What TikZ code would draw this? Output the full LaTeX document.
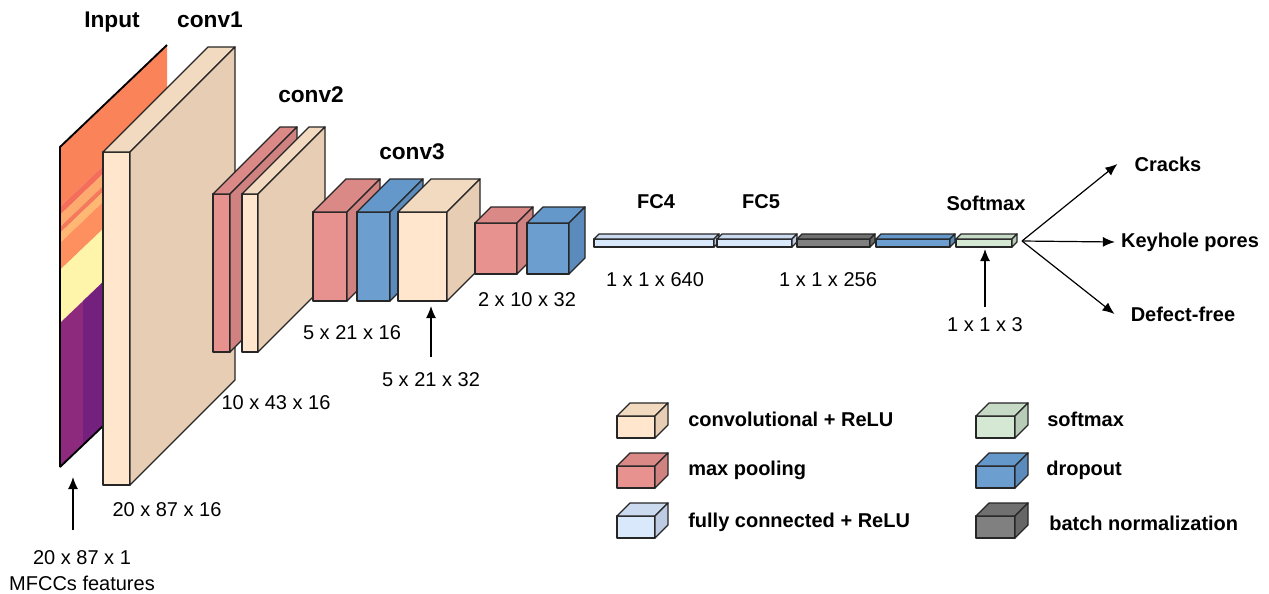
\documentclass[tikz,border=0pt]{standalone}
\usepackage{fontspec}
\setmainfont{Liberation Sans}
\usepackage{tikz}
\usetikzlibrary{arrows.meta,positioning,calc}
\definecolor{convF}{HTML}{FFE6CC}
\definecolor{convT}{HTML}{F2DAC0}
\definecolor{convS}{HTML}{E6CDB3}
\definecolor{poolF}{HTML}{E8928F}
\definecolor{poolT}{HTML}{DB8986}
\definecolor{poolS}{HTML}{CF8280}
\definecolor{dropF}{HTML}{6C9FD0}
\definecolor{dropT}{HTML}{6598CA}
\definecolor{dropS}{HTML}{5A8BBC}
\definecolor{fcF}{HTML}{DAE8FC}
\definecolor{fcT}{HTML}{CCDAF0}
\definecolor{fcS}{HTML}{BDCCE2}
\definecolor{bnF}{HTML}{808080}
\definecolor{bnT}{HTML}{707070}
\definecolor{bnS}{HTML}{666666}
\definecolor{smF}{HTML}{D5E8D4}
\definecolor{smT}{HTML}{C7DAC6}
\definecolor{smS}{HTML}{B8CBB7}
\definecolor{mfA}{HTML}{FB8359}
\definecolor{mfB}{HTML}{F46E5B}
\definecolor{mfC}{HTML}{FDAA6E}
\definecolor{mfD}{HTML}{F57A5C}
\definecolor{mfE}{HTML}{FFB874}
\definecolor{mfF}{HTML}{FD905E}
\definecolor{mfY}{HTML}{FFF5AA}
\definecolor{mfP}{HTML}{8E2A7E}
\definecolor{mfQ}{HTML}{74207F}
\tikzset{blk/.style={draw=black!85, line width=1pt, line join=round}}
\tikzset{ttl/.style={font=\bfseries\fontsize{17}{20}\selectfont, inner sep=0pt}}
\tikzset{dim/.style={font=\fontsize{15}{19.5}\selectfont, inner sep=0pt}}
\tikzset{cls/.style={font=\bfseries\fontsize{15}{18}\selectfont, inner sep=0pt}}
\tikzset{arr/.style={-{Latex[length=9pt,width=7.5pt]}, line width=0.9pt}}
\newcommand{\cuboid}[7]{%
  \filldraw[blk, fill=#7F] (#2,#3) rectangle ({#2+#4},{#3+#5});
  \filldraw[blk, fill=#7T] (#2,#3) -- ({#2+#6},{#3-#6}) -- ({#2+#4+#6},{#3-#6}) -- ({#2+#4},#3) -- cycle;
  \filldraw[blk, fill=#7S] ({#2+#4},#3) -- ({#2+#4+#6},{#3-#6}) -- ({#2+#4+#6},{#3+#5-#6}) -- ({#2+#4},{#3+#5}) -- cycle;
  \coordinate (#1) at ({#2+#4/2},{#3+#5});
}
\newcommand{\band}[3]{\fill[#3] (60,#1) -- (167,{#1-102}) -- (167,{#2-102}) -- (60,#2) -- cycle;}

\begin{document}
\begin{tikzpicture}[x=0.75pt, y=-0.75pt]
        \useasboundingbox (0,0) rectangle (1269,593);
        \begin{scope}
          \clip (60,147) -- (167,45) -- (167,365) -- (60,467) -- cycle;
          \band{40}{207}{mfA}
          \band{207}{215}{mfB}
          \band{215}{227}{mfC}
          \band{227}{233}{mfD}
          \band{233}{243}{mfE}
          \band{243}{270}{mfF}
          \band{270}{323}{mfY}
          \band{323}{480}{mfP}
          \clip (83,0) rectangle (167,480);
          \band{323}{480}{mfQ}
        \end{scope}
        \draw[line width=1.4pt] (60,467) -- (60,147) -- (167,45);
        \draw[line width=1.4pt] (60,467) -- (167,365);
        \cuboid{c1}{103}{152}{27}{333}{105}{conv}
        \cuboid{p2}{213}{194}{17}{158}{67}{pool}
        \cuboid{c2}{242}{194}{16}{158}{67}{conv}
        \cuboid{p3}{313}{212}{34}{89}{33}{pool}
        \cuboid{d3}{357}{212}{33}{89}{33}{drop}
        \cuboid{c3}{398}{212}{49}{89}{33}{conv}
        \cuboid{p4}{475}{223}{42}{51}{16}{pool}
        \cuboid{d4}{527}{223}{42}{51}{16}{drop}
        \cuboid{f4}{594}{239}{120}{8}{5}{fc}
        \cuboid{f5}{717}{239}{75}{8}{5}{fc}
        \cuboid{bn}{797}{239}{73}{8}{5}{bn}
        \cuboid{dr}{876}{239}{74}{8}{5}{drop}
        \cuboid{sm}{956}{239}{56}{8}{5}{sm}
        \node[ttl] (tin) at (112,22) {Input};
        \node[ttl] (tc1) at (210,20) {conv1};
        \node[ttl] (tc2) at (311,95) {conv2};
        \node[ttl] (tc3) at (412,152) {conv3};
        \node[cls] (tf4) at (656,202) {FC4};
        \node[cls] (tf5) at (761,202) {FC5};
        \node[cls] (tsm) at (986,203) {Softmax};
        \node[dim, align=center, anchor=north] (lin) at (82,550) {20 x 87 x 1\\MFCCs features};
        \node[dim] (l1) at (167,510) {20 x 87 x 16};
        \node[dim] (l2) at (276,403) {10 x 43 x 16};
        \node[dim] (l3) at (352,333) {5 x 21 x 16};
        \node[dim] (l4) at (431,380) {5 x 21 x 32};
        \node[dim] (l5) at (527,300) {2 x 10 x 32};
        \node[dim] (l6) at (655,280) {1 x 1 x 640};
        \node[dim] (l7) at (828,280) {1 x 1 x 256};
        \node[dim] (l8) at (985,325) {1 x 1 x 3};
        \coordinate (inpt) at (73,477);
        \coordinate (smo) at (1022,241);
        \draw[arr, shorten <=15pt] (lin.north -| inpt) -- (inpt);
        \draw[arr, shorten <=12pt, shorten >=3.75pt] (l4) -- (l4 |- c3);
        \draw[arr, shorten <=8pt, shorten >=1.5pt] (l8) -- (l8 |- sm);
        \node[cls] (o1) at (1168,164) {Cracks};
        \node[cls] (o2) at (1190,242) {Keyhole pores};
        \node[cls] (o3) at (1183,314) {Defect-free};
        \draw[arr] (smo) -- ([xshift=-12.75pt]o1.west);
        \draw[arr] (smo) -- ([xshift=-4.5pt]o2.west);
        \draw[arr] (smo) -- ([xshift=-12pt]o3.west);
        \cuboid{g1}{617}{416}{38}{22}{13}{conv}
        \cuboid{g2}{617}{466}{38}{22}{13}{pool}
        \cuboid{g3}{617}{516}{38}{22}{13}{fc}
        \cuboid{g4}{976}{416}{39}{22}{13}{sm}
        \cuboid{g5}{976}{466}{39}{22}{13}{drop}
        \cuboid{g6}{976}{516}{39}{22}{13}{bn}
        \node[cls, anchor=west] (k1) at (688,419) {convolutional + ReLU};
        \node[cls, anchor=west] (k2) at (688,470) {max pooling};
        \node[cls, anchor=west] (k3) at (688,522) {fully connected + ReLU};
        \node[cls, anchor=west] (k4) at (1047,419) {softmax};
        \node[cls, anchor=west] (k5) at (1046,470) {dropout};
        \node[cls, anchor=west] (k6) at (1049,523) {batch normalization};
\end{tikzpicture}
\end{document}
